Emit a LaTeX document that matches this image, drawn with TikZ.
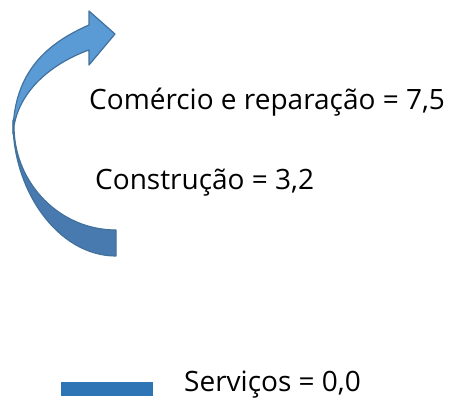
\documentclass[tikz,border=0pt]{standalone}
\usepackage{fontspec}
\setmainfont{Open Sans}
\usepackage{tikz}
\usetikzlibrary{positioning}
\usepackage{xcolor}
\definecolor{frontblue}{RGB}{91,155,213}
\definecolor{backblue}{RGB}{72,122,176}
\definecolor{edgeblue}{RGB}{65,113,156}
\definecolor{barblue}{RGB}{46,117,182}

\begin{document}
\begin{tikzpicture}[x=1pt, y=-1pt,
			label text/.style={anchor=base west, inner sep=0pt, font=\fontsize{28}{34}\selectfont},
			band/.style={draw=edgeblue, line width=1.2pt, line join=round}]
			\useasboundingbox (0,0) rectangle (451,399);
			% back part of the curved arrow
			\draw[band, fill=backblue] (13,120) .. controls (12,190) and (58,256) .. (116,256) -- (116,230) .. controls (60,230) and (15,184) .. (14,128) -- cycle;
			% front part with the head
			\draw[band, fill=frontblue] (13,134) .. controls (13,70) and (50,42) .. (89,25) -- (89,11) -- (115,34) -- (89,65) -- (89,50) .. controls (55,62) and (16,90) .. (13,134) -- cycle;
			\node[label text] (com) at (89,109) {Comércio e reparação = 7,5};
			\node[label text] (cons) at (95,189) {Construção = 3,2};
			% legend
			\fill[barblue] (61,382) rectangle (153,396);
			\node[label text] (serv) at (184,391) {Serviços = 0,0};
\end{tikzpicture}
\end{document}
